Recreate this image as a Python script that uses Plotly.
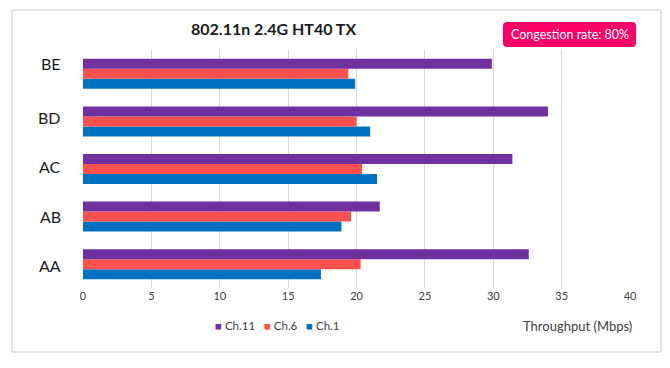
import plotly.graph_objects as go

categories = ["AA", "AB", "AC", "BD", "BE"]
ch1 = [17.4, 18.9, 21.5, 21.0, 19.9]
ch6 = [20.3, 19.6, 20.4, 20.0, 19.4]
ch11 = [32.6, 21.7, 31.4, 34.0, 29.9]
x_ticks = [0, 5, 10, 15, 20, 25, 30, 35, 40]
series_names = ["Ch.1", "Ch.6", "Ch.11"]
series_colors = ["#0070C0", "#FF5050", "#7030A0"]
label_shift = [-1, 0, 3, 4, 10]  # category label vertical offsets (px, upward)

FONT = "Lato"
OFF = 8  # page body margin
L, R, T, B = 83 - OFF, 630 - OFF, 50 - OFF, 288 - OFF
W, H = R - L, B - T

def px(x):
    return (x - OFF - L) / W

def py(y):
    return (B - (y - OFF)) / H

fig = go.Figure()
for name, vals, col in zip(series_names, [ch1, ch6, ch11], series_colors):
    fig.add_trace(go.Bar(y=categories, x=vals, name=name, orientation="h",
                         marker=dict(color=col, line=dict(width=0))))

fig.update_layout(
    width=670, height=368,
    margin=dict(l=L, r=670 - R, t=T, b=368 - B),
    paper_bgcolor="white", plot_bgcolor="white",
    barmode="group", bargap=0.37, bargroupgap=0,
    font=dict(family=FONT, color="#404040"),
    showlegend=False,
)
fig.update_xaxes(range=[0, 40], tickvals=x_ticks, showgrid=True, gridcolor="#D9D9D9", gridwidth=1,
                 zeroline=False, showline=False, ticks="", tickfont=dict(size=11, color="#404040"),
                 fixedrange=True)
fig.update_yaxes(showgrid=False, showline=False, ticks="", showticklabels=False, fixedrange=True)

# category labels
for cat, sh in zip(categories, label_shift):
    fig.add_annotation(text=cat, xref="paper", yref="y", x=px(63), y=cat, yshift=sh,
                       showarrow=False, xanchor="right", yanchor="middle",
                       font=dict(size=16, color="#1a1a1a", family=FONT))

# outer border
fig.add_shape(type="rect", xref="paper", yref="paper", x0=px(12), x1=px(661), y0=py(352), y1=py(10),
              line=dict(color="#C8C8C8", width=1), fillcolor="rgba(0,0,0,0)", layer="below")

# title
fig.add_annotation(text="<b>802.11n 2.4G HT40 TX</b>", xref="paper", yref="paper", x=px(273), y=py(28),
                   showarrow=False, font=dict(size=16, color="#1a1a1a", family=FONT), xanchor="center", yanchor="middle")

# badge
x0, x1, y0, y1 = px(503), px(636), py(47), py(22)
rx, ry = 4 / W, 4 / H
path = (f"M {x0+rx},{y0} L {x1-rx},{y0} Q {x1},{y0} {x1},{y0+ry} L {x1},{y1-ry} Q {x1},{y1} {x1-rx},{y1} "
        f"L {x0+rx},{y1} Q {x0},{y1} {x0},{y1-ry} L {x0},{y0+ry} Q {x0},{y0} {x0+rx},{y0} Z")
fig.add_shape(type="path", path=path, xref="paper", yref="paper", fillcolor="#FF0066", line=dict(width=0))
fig.add_annotation(text="Congestion rate: 80%", xref="paper", yref="paper", x=(x0 + x1) / 2, y=(y0 + y1) / 2,
                   showarrow=False, font=dict(size=12.5, color="white", family=FONT), xanchor="center", yanchor="middle")

# manual legend (Ch.11, Ch.6, Ch.1)
legend_html = "&nbsp;&nbsp;&nbsp;".join(
    f'<span style="color:{c}">■</span>&nbsp;{n}' for n, c in zip(series_names[::-1], series_colors[::-1])
)
fig.add_annotation(text=legend_html, xref="paper", yref="paper", x=px(277), y=py(326),
                   showarrow=False, font=dict(size=11.5, color="#404040", family=FONT),
                   xanchor="center", yanchor="middle")

# axis title
fig.add_annotation(text="Throughput (Mbps)", xref="paper", yref="paper", x=px(634), y=py(326),
                   showarrow=False, font=dict(size=13, color="#404040", family=FONT), xanchor="right", yanchor="middle")

fig.write_html("out.html")
